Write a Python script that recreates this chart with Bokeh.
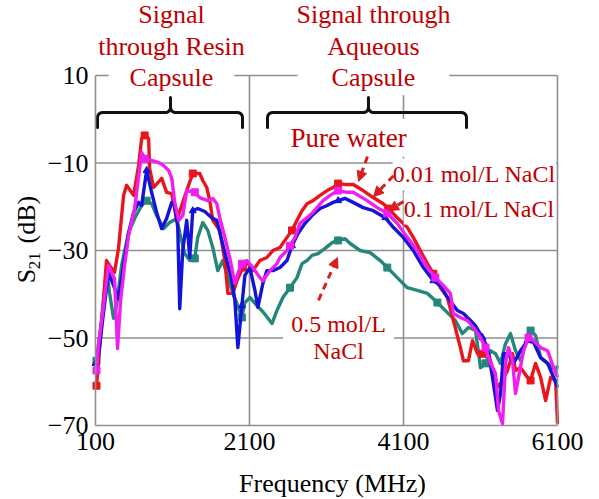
import numpy as np
from bokeh.plotting import figure
from bokeh.models import FixedTicker, LinearAxis, Label, Arrow, NormalHead, Range1d
from bokeh.embed import file_html
from bokeh.resources import INLINE

# ---- measured S21 spectra: (frequency MHz, S21 dB) ----
pure_water = [
    (113, -60.9), (204, -41.4), (243, -32.3), (282, -33.4), (347, -35.0), (399, -29.5),
    (465, -17.4), (504, -15.1), (595, -17.4), (660, -10.6), (699, -4.4), (738, -3.7),
    (790, -4.4), (803, -11.3), (855, -15.6), (959, -13.5), (1024, -16.7), (1090, -17.0),
    (1155, -23.1), (1285, -16.3), (1363, -12.4), (1454, -12.4), (1493, -14.0), (1545, -15.6),
    (1584, -18.6), (1623, -23.1), (1714, -25.4), (1780, -32.3), (1819, -39.8), (1884, -39.8),
    (1936, -36.9), (2014, -33.9), (2079, -32.7), (2144, -34.6), (2235, -32.3), (2326, -31.6),
    (2405, -30.0), (2496, -29.3), (2587, -27.0), (2652, -25.4), (2717, -23.1), (2782, -20.9),
    (2847, -19.3), (2925, -18.6), (3016, -17.4), (3108, -16.3), (3186, -15.6), (3251, -14.7),
    (3342, -14.9), (3446, -14.9), (3576, -16.3), (3707, -17.9), (3837, -19.3), (3902, -20.4),
    (4019, -22.5), (4149, -24.7), (4227, -27.0), (4318, -30.0), (4410, -33.0), (4488, -35.3),
    (4579, -38.5), (4670, -40.7), (4748, -46.0), (4839, -52.2), (4878, -55.2), (4943, -55.2),
    (4996, -50.6), (5061, -53.6), (5126, -53.6), (5191, -52.9), (5256, -56.8), (5321, -61.3),
    (5386, -59.7), (5451, -57.4), (5516, -53.6), (5555, -57.4), (5620, -56.8), (5711, -59.0),
    (5750, -59.7), (5815, -55.8), (5881, -59.0), (5946, -64.3), (6011, -59.0), (6076, -59.7),
    (6100, -69.6),
]

nacl_001 = [
    (113, -57.4), (139, -51.7), (204, -42.6), (269, -33.4), (308, -35.0), (347, -36.4),
    (386, -52.4), (426, -41.4), (478, -33.4), (530, -26.6), (608, -20.4), (673, -11.3),
    (699, -7.6), (738, -9.0), (829, -9.4), (920, -9.9), (985, -10.6), (1050, -11.7),
    (1090, -13.5), (1129, -19.0), (1181, -23.1), (1233, -22.0), (1285, -16.3), (1389, -16.7),
    (1454, -17.9), (1558, -18.6), (1623, -18.1), (1675, -19.3), (1714, -22.5), (1780, -27.0),
    (1845, -31.8), (1910, -37.5), (1949, -35.3), (2001, -33.0), (2066, -32.3), (2144, -33.9),
    (2235, -36.2), (2274, -36.9), (2366, -34.6), (2457, -33.0), (2496, -31.6), (2587, -30.0),
    (2626, -28.9), (2691, -27.0), (2756, -23.8), (2847, -22.5), (2912, -21.5), (2977, -20.2),
    (3055, -18.6), (3147, -17.4), (3251, -16.3), (3368, -16.7), (3446, -16.7), (3628, -18.6),
    (3759, -20.2), (3889, -21.5), (4019, -23.8), (4149, -27.0), (4279, -30.0), (4410, -33.9),
    (4514, -36.2), (4618, -38.0), (4709, -39.8), (4748, -44.4), (4839, -45.3), (4930, -46.0),
    (5009, -47.6), (5100, -49.9), (5165, -52.2), (5230, -55.8), (5295, -58.1), (5334, -66.6),
    (5386, -69.6), (5425, -55.8), (5464, -52.2), (5516, -55.2), (5555, -62.7), (5594, -59.0),
    (5659, -52.9), (5724, -49.9), (5789, -50.6), (5881, -52.2), (5972, -52.9), (6050, -56.8),
    (6100, -59.0),
]

nacl_01 = [
    (100, -55.8), (139, -54.0), (204, -44.2), (269, -35.0), (334, -38.0), (399, -41.0),
    (465, -33.4), (530, -25.9), (595, -21.3), (660, -19.0), (699, -19.7), (764, -11.7),
    (829, -16.7), (894, -21.3), (959, -25.0), (1024, -22.7), (1090, -19.0), (1129, -19.7),
    (1168, -24.7), (1194, -43.3), (1233, -30.0), (1285, -23.1), (1324, -31.6), (1363, -20.9),
    (1428, -20.4), (1519, -21.1), (1610, -22.5), (1675, -23.1), (1740, -27.7), (1806, -32.3),
    (1871, -36.9), (1910, -41.4), (1949, -52.2), (2001, -42.6), (2040, -35.7), (2105, -33.9),
    (2170, -39.1), (2209, -43.0), (2274, -37.5), (2326, -34.6), (2405, -34.6), (2496, -33.9),
    (2587, -32.3), (2652, -28.9), (2730, -26.1), (2821, -23.8), (2912, -22.0), (3016, -20.4),
    (3108, -19.7), (3186, -19.0), (3251, -18.6), (3342, -18.1), (3446, -19.0), (3576, -20.2),
    (3707, -20.9), (3863, -22.5), (3967, -24.7), (4097, -27.0), (4227, -30.0), (4358, -33.9),
    (4488, -36.9), (4579, -38.0), (4670, -40.7), (4800, -43.7), (4878, -44.4), (4970, -46.0),
    (5035, -47.2), (5126, -49.9), (5191, -52.2), (5256, -59.0), (5321, -66.6), (5360, -62.7),
    (5399, -53.6), (5464, -53.6), (5529, -55.8), (5620, -52.9), (5711, -50.6), (5789, -51.0),
    (5881, -54.5), (5972, -55.8), (6050, -59.0), (6100, -61.3),
]

nacl_05 = [
    (113, -55.2), (178, -46.0), (243, -34.1), (282, -39.6), (334, -45.5), (373, -42.6),
    (439, -33.4), (530, -25.9), (608, -22.7), (699, -19.7), (764, -18.6), (829, -19.3),
    (894, -22.0), (985, -25.0), (1063, -23.6), (1155, -22.7), (1194, -25.9), (1259, -30.7),
    (1324, -32.3), (1389, -31.8), (1428, -27.0), (1493, -23.6), (1558, -25.4), (1623, -29.3),
    (1688, -34.6), (1753, -32.3), (1819, -36.2), (1884, -39.8), (1936, -42.1), (2001, -45.3),
    (2040, -41.9), (2105, -40.7), (2196, -42.6), (2274, -44.0), (2392, -46.7), (2457, -43.7),
    (2535, -40.7), (2626, -38.5), (2717, -36.2), (2782, -33.0), (2847, -32.3), (2912, -31.1),
    (2990, -30.7), (3082, -29.5), (3173, -28.2), (3251, -27.7), (3342, -27.3), (3407, -28.4),
    (3537, -30.0), (3667, -30.5), (3798, -32.3), (3889, -33.9), (4019, -36.2), (4149, -38.5),
    (4279, -39.1), (4410, -39.8), (4540, -41.9), (4670, -44.2), (4774, -46.0), (4865, -49.0),
    (4943, -47.6), (5035, -48.3), (5100, -56.8), (5165, -55.8), (5230, -52.9), (5295, -53.6),
    (5360, -55.8), (5425, -51.3), (5490, -49.0), (5555, -52.9), (5620, -55.2), (5685, -51.3),
    (5750, -48.3), (5815, -49.4), (5881, -54.5), (5972, -55.8), (6076, -57.4), (6100, -56.3),
]

# frequencies where the series carry point markers
marker_mhz = [113, 738, 1363, 2001, 2626, 3251, 3889, 4514, 5139, 5750]

x_ticks = [100, 2100, 4100, 6100]
y_ticks = [10, -10, -30, -50, -70]
x_grid = [2100, 4100]
y_grid = [-10, -30, -50]
X_MIN, X_MAX = 100, 6100
Y_MIN, Y_MAX = -70, 10

FONT = "Liberation Serif"
NOTE_RED = "#C00000"
ARROW_RED = "#D42020"
GRID = "#8f8f8f"

# The canvas is one big frame; the plotting box sits inside it at
# left 95, right 557, top 75, bottom 425 (pixels), so texts around it
# can live in the same data space.
W, H = 599, 499
BOX_L, BOX_R, BOX_T, BOX_B = 95, 557, 75, 425
mhz_per_px = (X_MAX - X_MIN) / (BOX_R - BOX_L)
db_per_px = (Y_MAX - Y_MIN) / (BOX_B - BOX_T)
x_range = Range1d(X_MIN - BOX_L * mhz_per_px, X_MAX + (W - BOX_R) * mhz_per_px)
y_range = Range1d(Y_MIN - (H - BOX_B) * db_per_px, Y_MAX + BOX_T * db_per_px)

p = figure(width=W, height=H, x_range=x_range, y_range=y_range,
           output_backend="svg", toolbar_location=None,
           min_border=0, min_border_left=0, min_border_right=0,
           min_border_top=0, min_border_bottom=0)
p.outline_line_color = None
p.background_fill_color = "white"
p.border_fill_color = "white"
p.grid.visible = False

xa, ya = p.xaxis[0], p.yaxis[0]
xa.fixed_location = Y_MIN
xa.bounds = (X_MIN, X_MAX)
ya.fixed_location = X_MIN
ya.bounds = (Y_MIN, Y_MAX)
for ax, ticks in ((xa, x_ticks), (ya, y_ticks)):
    ax.ticker = FixedTicker(ticks=ticks)
    ax.major_tick_line_color = None
    ax.minor_tick_line_color = None
    ax.major_tick_out = 0
    ax.major_tick_in = 0
    ax.axis_line_color = GRID
    ax.axis_line_width = 1.6
    ax.major_label_text_font = FONT
    ax.major_label_text_font_size = "26px"
    ax.major_label_text_color = "black"
    ax.major_label_standoff = 7

# right and top edges of the plotting box
for loc, fixed, bnds in (("right", X_MAX, (Y_MIN, Y_MAX)), ("above", Y_MAX, (X_MIN, X_MAX))):
    edge = LinearAxis(ticker=FixedTicker(ticks=[]), axis_line_color=GRID, axis_line_width=1.6,
                      major_tick_line_color=None, minor_tick_line_color=None,
                      major_label_text_font_size="0px", fixed_location=fixed, bounds=bnds)
    p.add_layout(edge, loc)

# grid lines inside the plotting box
p.segment(x0=x_grid, y0=[Y_MIN] * len(x_grid), x1=x_grid, y1=[Y_MAX] * len(x_grid),
          line_color=GRID, line_width=1.6)
p.segment(x0=[X_MIN] * len(y_grid), y0=y_grid, x1=[X_MAX] * len(y_grid), y1=y_grid,
          line_color=GRID, line_width=1.6)

series = [
    (nacl_05, "#24877A", "square"),
    (pure_water, "#E8161C", "square"),
    (nacl_01, "#1414D8", "triangle"),
    (nacl_001, "#F01EF0", "square"),
]
for data, color, mk in series:
    f = np.array([d[0] for d in data], dtype=float)
    s = np.array([d[1] for d in data], dtype=float)
    p.line(f, s, line_color=color, line_width=3.4, line_join="round")
    idx = sorted({int(np.argmin(np.abs(f - m))) for m in marker_mhz})
    p.scatter(f[idx], s[idx], marker=mk, size=7, fill_color=color, line_color=color)


def brace(x0, x1, xc, y_arm, y_end, y_tip, rx=65, ry=1.15, n=8):
    t = np.linspace(0, np.pi / 2, n)
    xs, ys = [x0], [y_end]
    cx, cy = x0 + rx, y_arm - ry
    xs += list(cx - rx * np.cos(t)); ys += list(cy + ry * np.sin(t))
    cx, cy = xc - rx, y_arm + ry
    xs += list(cx + rx * np.sin(t)); ys += list(cy - ry * np.cos(t))
    xs.append(xc); ys.append(y_tip)
    cx, cy = xc + rx, y_arm + ry
    xs += list(cx - rx * np.cos(t)); ys += list(cy - ry * np.sin(t))
    cx, cy = x1 - rx, y_arm - ry
    xs += list(cx + rx * np.sin(t)); ys += list(cy + ry * np.cos(t))
    xs.append(x1); ys.append(y_end)
    p.line(xs, ys, line_color="#111111", line_width=3, line_join="round", line_cap="round")


brace(126, 2009, 1074, 1.54, -1.9, 4.97)
brace(2334, 4918, 3645, 1.54, -1.9, 4.97)


def note(x, y, text, size="26px", color=NOTE_RED, bg=None, pad=0, angle=0.0,
         align="center", baseline="middle"):
    lab = Label(x=x, y=y, text=text, text_font=FONT, text_font_size=size, text_color=color,
                text_align=align, text_baseline=baseline, angle=angle,
                background_fill_color=bg, padding=pad)
    p.add_layout(lab)


# region titles above the box
note(1087, 23.9, "Signal")
note(1087, 16.6, "through Resin")
note(1087, 9.5, "Capsule", bg="white", pad=(21, 3))
note(3710, 23.9, "Signal through")
note(3710, 16.6, "Aqueous")
note(3710, 9.5, "Capsule", bg="white", pad=(34, 3))

# series annotations
note(3386, -4.2, "Pure water", size="27px", bg="white", pad=(3, 4))
note(5020, -12.6, "0.01 mol/L NaCl", size="24px", bg="white", pad=(0, 3))
note(5085, -20.4, "0.1 mol/L NaCl", size="24px", bg="white", pad=(0, 3))
note(3256, -46.7, "0.5 mol/L", size="24px", bg="white", pad=(8, 4))
note(3256, -52.9, "NaCl", size="24px", bg="white", pad=(30, 2))

arrows = [
    (3632, -8.5, 3516, -14.2),
    (3970, -12.9, 3710, -17.7),
    (4100, -18.8, 3905, -20.9),
    (2996, -41.4, 3243, -31.6),
]
for xs_, ys_, xe_, ye_ in arrows:
    p.add_layout(Arrow(end=NormalHead(size=10, fill_color=ARROW_RED, line_color=ARROW_RED),
                       x_start=xs_, y_start=ys_, x_end=xe_, y_end=ye_,
                       line_color=ARROW_RED, line_width=3, line_dash="7 5"))

# axis titles
note(3178, -83.3, "Frequency (MHz)", color="black")
note(-796, -37.5, "S", color="black", angle=np.pi / 2, align="left")
note(-692, -34.3, "21", size="17px", color="black", angle=np.pi / 2, align="left")
note(-796, -28.4, "(dB)", color="black", angle=np.pi / 2, align="left")

open("out.html", "w").write(file_html(p, INLINE))
